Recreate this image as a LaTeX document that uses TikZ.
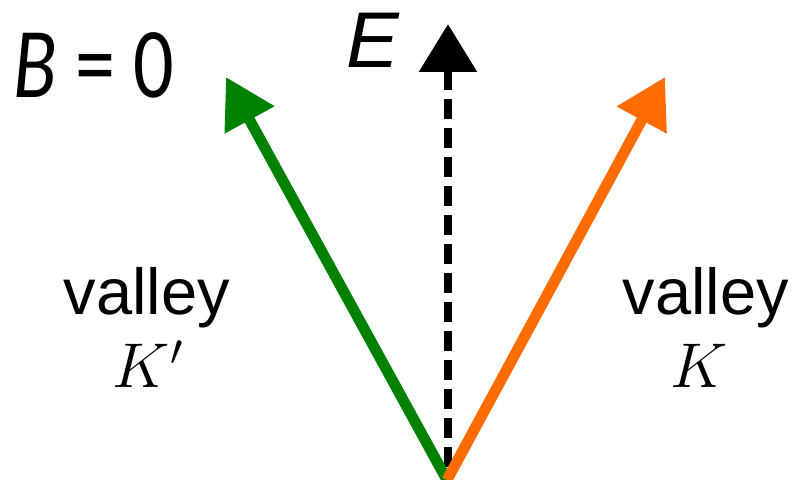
\RequirePackage{fix-cm}
\documentclass[tikz,border=0pt]{standalone}
\usepackage{fontspec}
\setmainfont{Liberation Sans}
\newfontfamily\carlito[FakeStretch=0.8]{Carlito}
\usepackage{tikz}
\usetikzlibrary{arrows.meta}
\definecolor{verdeVale}{RGB}{0,130,0}
\definecolor{laranjaVale}{RGB}{255,108,0}

\begin{document}
\begin{tikzpicture}[
    x=0.02cm, y=0.02cm,
    valearrow/.style={line width=6.2pt, -{Triangle[length=0.98cm, width=1.08cm]}},
    energyarrow/.style={line width=5.1pt, dash pattern=on 0.40cm off 0.18cm, {Triangle[length=0.96cm, width=1.12cm]}-},
    valelabel/.style={anchor=base, inner sep=0pt, font=\fontsize{37}{40}\selectfont},
    kvale/.style={anchor=base, inner sep=0pt, font=\fontsize{36}{40}\selectfont},
    carlitolabel/.style={anchor=base, inner sep=0pt, font=\fontsize{57}{60}\selectfont\carlito},
    eixolabel/.style={anchor=base, inner sep=0pt, font=\fontsize{45}{50}\selectfont\itshape}
]
    \useasboundingbox (0,0) rectangle (806,480);

    \coordinate (o) at (447,0);
    \coordinate (ob) at (448,0);
    \coordinate (kp) at (226,403);
    \coordinate (k) at (665,403);
    \coordinate (e) at (448,456);

    \draw[energyarrow, black] (e) -- (ob);
    \draw[valearrow, verdeVale] (o) -- (kp);
    \draw[valearrow, laranjaVale] (o) -- (k);

    \node[carlitolabel] (campo) at (94,382) {\textit{B} = 0};
    \node[eixolabel] (energia) at (373,412) {E};

    \node[valelabel] (vale1) at (147,165) {valley};
    \node[kvale] (kl) at (148,92) {$K'$};
    \node[valelabel] (vale2) at (706,165) {valley};
    \node[kvale] (kr) at (699,92) {$K$};
\end{tikzpicture}
\end{document}
